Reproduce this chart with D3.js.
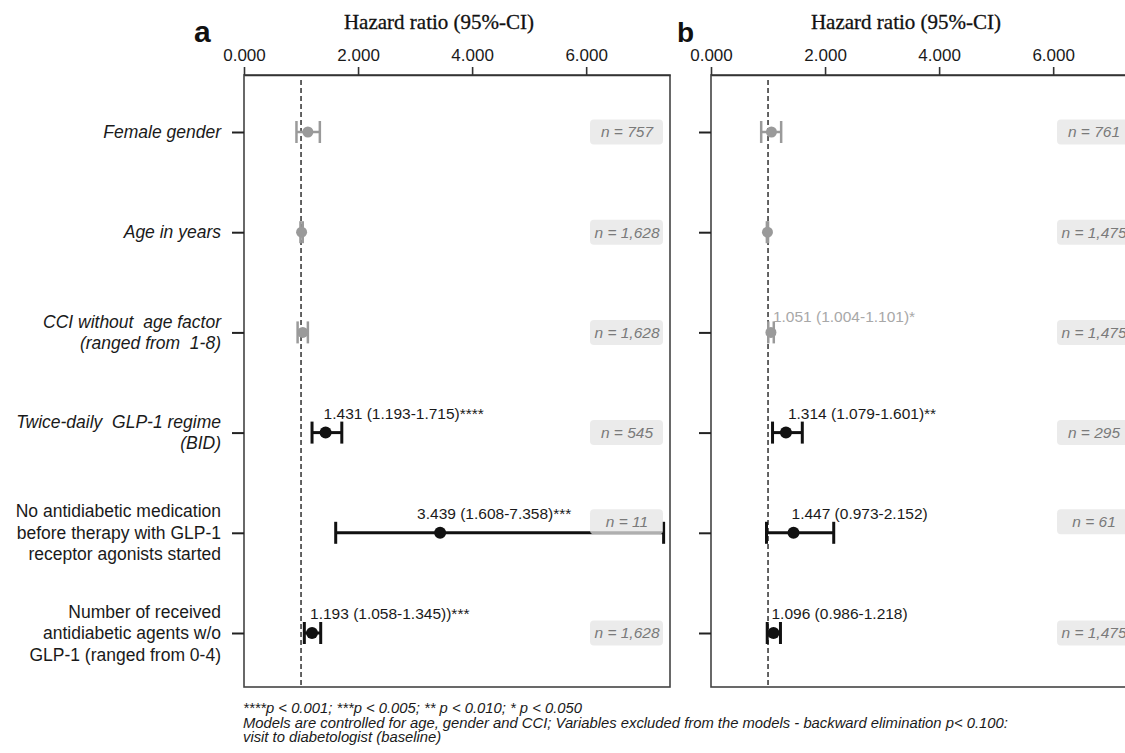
<!DOCTYPE html>
<html>
<head>
<meta charset="utf-8">
<script src="https://cdn.jsdelivr.net/npm/d3@7"></script>
<style>
  body { margin: 0; background: #fff; }
  svg { display: block; }
</style>
</head>
<body>
<svg id="chart"></svg>
<script>
const width = 1125;
const height = 753;

// row labels, one array of lines per row; first four rows are italic
const rowLabels = [
  ["Female gender"],
  ["Age in years"],
  ["CCI without  age factor", "(ranged from  1-8)"],
  ["Twice-daily  GLP-1 regime", "(BID)"],
  ["No antidiabetic medication", "before therapy with GLP-1", "receptor agonists started"],
  ["Number of received", "antidiabetic agents w/o", "GLP-1 (ranged from 0-4)"]
];
const italicRows = [true, true, true, true, false, false];
const significant = [false, false, false, true, true, true];

const xTicks = [0, 2, 4, 6];

// panel a
const hrA = [1.12, 1.01, 1.03, 1.431, 3.439, 1.193];
const lowA = [0.92, 0.99, 0.94, 1.193, 1.608, 1.058];
const highA = [1.33, 1.03, 1.12, 1.715, 7.358, 1.345];
const textA = [null, null, null, "1.431 (1.193-1.715)****", "3.439 (1.608-7.358)***", "1.193 (1.058-1.345))***"];
const nA = ["n = 757", "n = 1,628", "n = 1,628", "n = 545", "n = 11", "n = 1,628"];

// panel b
const hrB = [1.06, 0.99, 1.051, 1.314, 1.447, 1.096];
const lowB = [0.88, 0.98, 1.004, 1.079, 0.973, 0.986];
const highB = [1.23, 1.00, 1.101, 1.601, 2.152, 1.218];
const textB = [null, null, "1.051 (1.004-1.101)*", "1.314 (1.079-1.601)**", "1.447 (0.973-2.152)", "1.096 (0.986-1.218)"];
const nB = ["n = 761", "n = 1,475", "n = 1,475", "n = 295", "n = 61", "n = 1,475"];

const footnotes = [
  "****p < 0.001; ***p < 0.005; ** p < 0.010; * p < 0.050",
  "Models are controlled for age, gender and CCI; Variables excluded from the models - backward elimination p< 0.100:",
  "visit to diabetologist (baseline)"
];

const svg = d3.select("#chart")
  .attr("width", width)
  .attr("height", height)
  .style("font-family", "Arial, 'Liberation Sans', sans-serif");

svg.append("rect").attr("width", width).attr("height", height).attr("fill", "#fff");

const plotTop = 75;
const plotBottom = 687;
const panelW = 426;
const xMax = 7.47;

const y = d3.scalePoint()
  .domain(d3.range(rowLabels.length))
  .range([132, 633]);

const panels = [
  { key: "a", left: 244, hr: hrA, low: lowA, high: highA, text: textA, n: nA, textShift: [0, 0, 0, 0, -21, 0] },
  { key: "b", left: 711, hr: hrB, low: lowB, high: highB, text: textB, n: nB, textShift: [0, 0, 4, 4, 0, 0] }
];

// row labels (left of panel a)
rowLabels.forEach((lines, i) => {
  const t = svg.append("text")
    .attr("x", 221)
    .attr("text-anchor", "end")
    .attr("font-size", 17.5)
    .attr("fill", "#1a1a1a")
    .attr("font-style", italicRows[i] ? "italic" : "normal")
    .style("white-space", "pre");
  const lh = 21.5;
  const y0 = y(i) - (lines.length - 1) * lh / 2;
  lines.forEach((line, k) => {
    t.append("tspan")
      .attr("x", 221)
      .attr("y", y0 + k * lh)
      .attr("dy", "0.35em")
      .text(line);
  });
});

panels.forEach(p => {
  const x = d3.scaleLinear().domain([0, xMax]).range([p.left, p.left + panelW]);
  const g = svg.append("g");

  // panel letter
  g.append("text")
    .attr("x", p.left - (p.key === "a" ? 50 : 34))
    .attr("y", 42)
    .attr("font-size", p.key === "a" ? 30 : 28)
    .attr("font-weight", "bold")
    .attr("fill", "#111")
    .text(p.key);

  // axis title
  g.append("text")
    .attr("x", p.left + 195)
    .attr("y", 29)
    .attr("text-anchor", "middle")
    .attr("font-family", "'Liberation Serif', 'Times New Roman', serif")
    .attr("font-size", 21)
    .attr("fill", "#111")
    .attr("stroke", "#111")
    .attr("stroke-width", 0.3)
    .text("Hazard ratio (95%-CI)");

  // frame
  g.append("rect")
    .attr("x", x(0))
    .attr("y", plotTop)
    .attr("width", panelW)
    .attr("height", plotBottom - plotTop)
    .attr("fill", "none")
    .attr("stroke", "#444")
    .attr("stroke-width", 1.6);

  // top axis
  const axis = g.append("g")
    .attr("transform", `translate(0,${plotTop})`)
    .call(d3.axisTop(x).tickValues(xTicks).tickFormat(d3.format(".3f")).tickSize(8).tickSizeOuter(0));
  axis.select(".domain").attr("stroke", "#333").attr("stroke-width", 1.6);
  axis.selectAll(".tick line").attr("stroke", "#333").attr("stroke-width", 1.6);
  axis.selectAll(".tick text")
    .attr("font-size", 17)
    .attr("font-family", "Arial, 'Liberation Sans', sans-serif")
    .attr("fill", "#1a1a1a")
    .attr("dy", "-0.2em");

  // left row ticks
  const yAxis = g.append("g")
    .attr("transform", `translate(${x(0)},0)`)
    .call(d3.axisLeft(y).tickSize(12).tickFormat(""));
  yAxis.select(".domain").remove();
  yAxis.selectAll(".tick line").attr("stroke", "#222").attr("stroke-width", 2);

  // reference line at HR = 1
  g.append("line")
    .attr("x1", x(1)).attr("x2", x(1))
    .attr("y1", plotTop + 5).attr("y2", plotBottom)
    .attr("stroke", "#222")
    .attr("stroke-width", 1.4)
    .attr("stroke-dasharray", "5,3");

  // CIs
  rowLabels.forEach((_, i) => {
    const col = significant[i] ? "#111" : "#9a9a9a";
    const sw = significant[i] ? 3 : 2.5;
    const cy = y(i);
    g.append("line")
      .attr("x1", x(p.low[i])).attr("x2", x(p.high[i]))
      .attr("y1", cy).attr("y2", cy)
      .attr("stroke", col).attr("stroke-width", sw);
    [p.low[i], p.high[i]].forEach(v => {
      g.append("line")
        .attr("x1", x(v)).attr("x2", x(v))
        .attr("y1", cy - 11).attr("y2", cy + 11)
        .attr("stroke", col).attr("stroke-width", sw);
    });
    g.append("circle")
      .attr("cx", x(p.hr[i]))
      .attr("cy", cy)
      .attr("r", significant[i] ? 6 : 5.5)
      .attr("fill", col);

    if (p.text[i]) {
      g.append("text")
        .attr("x", x(p.hr[i]) - 2 + p.textShift[i])
        .attr("y", cy - (i === 2 ? 16 : 19))
        .attr("dy", "0.35em")
        .attr("font-size", 15.5)
        .attr("fill", significant[i] ? "#1a1a1a" : "#a8a8a8")
        .text(p.text[i]);
    }

    // n box
    const by = i === 4 ? cy - 11 : cy;
    const bx = x(0) + 346;
    g.append("rect")
      .attr("x", bx)
      .attr("y", by - 12.5)
      .attr("width", 73)
      .attr("height", 25)
      .attr("rx", 4)
      .attr("fill", "#e4e4e4")
      .attr("fill-opacity", 0.75);
    g.append("text")
      .attr("x", bx + 37)
      .attr("y", by)
      .attr("dy", "0.35em")
      .attr("text-anchor", "middle")
      .attr("font-size", 15.5)
      .attr("font-style", "italic")
      .attr("fill", "#7a7a7a")
      .text(p.n[i]);
  });
});

// footnotes
footnotes.forEach((line, k) => {
  svg.append("text")
    .attr("x", 243)
    .attr("y", 708 + k * 14.5)
    .attr("dy", "0.35em")
    .attr("font-size", 14.8)
    .attr("font-style", "italic")
    .attr("fill", "#1a1a1a")
    .text(line);
});
</script>
</body>
</html>
